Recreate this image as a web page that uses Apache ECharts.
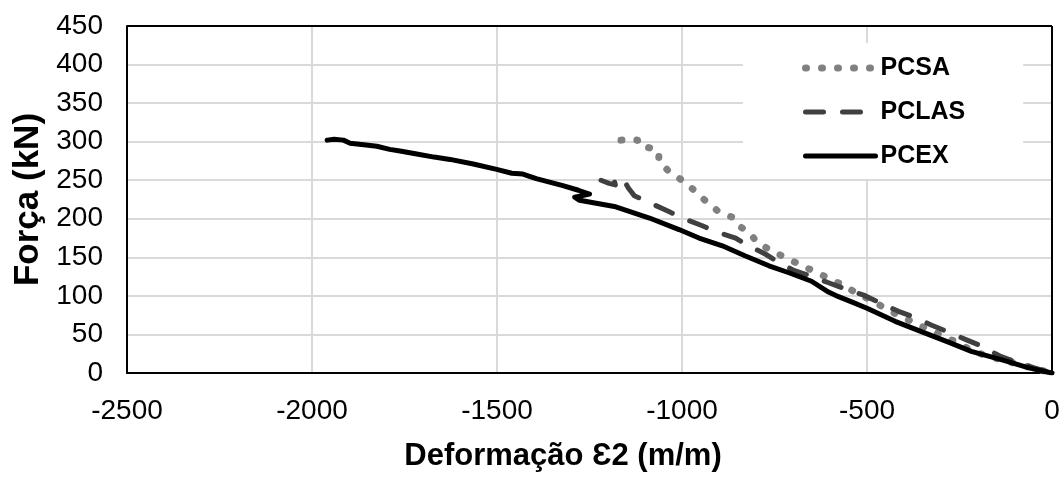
<!DOCTYPE html>
<html>
<head>
<meta charset="utf-8">
<script src="https://cdn.jsdelivr.net/npm/echarts@6/dist/echarts.min.js"></script>
<style>
html,body{margin:0;padding:0;background:#fff;}
#chart{width:1064px;height:477px;}
</style>
</head>
<body>
<div id="chart"></div>
<script>
// Axis ticks
const xTicks = [-2500, -2000, -1500, -1000, -500, 0];
const yTicks = [0, 50, 100, 150, 200, 250, 300, 350, 400, 450];
const seriesNames = ['PCSA', 'PCLAS', 'PCEX'];

// PCSA (dotted)
const pcsaX = [-1165, -1140, -1120, -1118, -1088, -1062, -1063, -1037, -1000, -967, -936, -903, -864, -853, -815, -799, -760, -722, -683, -644, -604, -565, -526, -487, -451, -411, -372, -333, -294, -254, -213, -173, -128, -88, -48, 0];
const pcsaY = [302, 303, 302, 296, 292, 287, 276, 262, 250, 237, 223, 210, 202, 193, 181, 170, 159, 150, 141, 132, 123, 114, 103, 94, 84, 74, 65, 56, 48, 39, 28, 22, 16, 11, 6, 0];

// PCLAS (dashed)
const pclasX = [-1219, -1197, -1180, -1184, -1170, -1157, -1145, -1129, -1093, -1034, -999, -945, -913, -855, -828, -774, -747, -698, -653, -604, -559, -509, -469, -415, -375, -325, -280, -231, -191, -141, -101, -50, 0];
const pclasY = [250, 246, 244, 251, 253, 250, 240, 230, 222, 209, 201, 191, 184, 175, 167, 154, 146, 133, 126, 117, 109, 101, 92, 80, 73, 62, 53, 43, 35, 22, 15, 7, 0];

// PCEX (solid)
const pcexX = [-1959, -1940, -1915, -1897, -1860, -1825, -1790, -1762, -1717, -1670, -1627, -1564, -1501, -1460, -1430, -1394, -1322, -1280, -1250, -1290, -1277, -1183, -1088, -1008, -954, -891, -830, -765, -711, -650, -604, -577, -540, -500, -424, -334, -280, -218, -128, -65, -20, 0];
const pcexY = [302, 303, 302, 298, 296, 294, 290, 288, 284, 280, 277, 271, 264, 259, 258, 252, 243, 237, 232, 228, 224, 216, 201, 186, 175, 165, 152, 139, 130, 119, 105, 99, 92, 84, 67, 50, 40, 28, 16, 7, 2, 0];

function zip(xs, ys) { return xs.map((x, i) => [x, ys[i]]); }

const FONT = "'Liberation Sans', Arial, sans-serif";
const BORDER = {show: true, onZero: false, lineStyle: {color: '#000', width: 2}};
const GRIDLINE = {show: true, showMinLine: false, showMaxLine: false, lineStyle: {color: '#d9d9d9', width: 2}};

const styles = {
  PCSA: {color: '#808080', width: 7, type: [1, 15], cap: 'round', join: 'round'},
  PCLAS: {color: '#404040', width: 5, type: [18, 19], cap: 'round', join: 'round'},
  PCEX: {color: '#000000', width: 5, type: 'solid', cap: 'round', join: 'round'}
};

const chart = echarts.init(document.getElementById('chart'), null, {renderer: 'canvas'});
chart.setOption({
  animation: false,
  backgroundColor: '#fff',
  grid: {left: 127, right: 12, top: 26, bottom: 98},
  legend: {
    data: seriesNames.map(n => ({name: n, lineStyle: styles[n], itemStyle: {opacity: 0}})),
    orient: 'vertical',
    left: 743, top: 43,
    z: 5,
    backgroundColor: '#fff',
    padding: [12, 58, 10, 59],
    itemWidth: 70, itemHeight: 14, itemGap: 18,
    selectedMode: false,
    itemStyle: {opacity: 0},
    textStyle: {fontFamily: FONT, fontSize: 25, fontWeight: 'bold', color: '#000', lineHeight: 26}
  },
  xAxis: {
    type: 'value',
    min: xTicks[0], max: xTicks[xTicks.length - 1], interval: 500,
    name: 'Deformação Ɛ2 (m/m)',
    nameLocation: 'middle', nameGap: 68,
    nameTextStyle: {fontFamily: FONT, fontSize: 31, fontWeight: 'bold', color: '#000', padding: [0, 53, 0, 0]},
    axisLine: BORDER, axisTick: {show: false},
    axisLabel: {fontFamily: FONT, fontSize: 28, color: '#000', margin: 24, formatter: v => String(v)},
    splitLine: GRIDLINE
  },
  yAxis: {
    type: 'value',
    min: yTicks[0], max: yTicks[yTicks.length - 1], interval: 50,
    name: 'Força (kN)',
    nameLocation: 'middle', nameGap: 81, nameRotate: 90,
    nameTextStyle: {fontFamily: FONT, fontSize: 35, fontWeight: 'bold', color: '#000'},
    axisLine: BORDER, axisTick: {show: false},
    axisLabel: {fontFamily: FONT, fontSize: 28, color: '#000', margin: 24},
    splitLine: GRIDLINE
  },
  series: seriesNames.map(n => ({
    name: n, type: 'line',
    data: n === 'PCSA' ? zip(pcsaX, pcsaY) : n === 'PCLAS' ? zip(pclasX, pclasY) : zip(pcexX, pcexY),
    showSymbol: false, symbol: 'none', smooth: false,
    itemStyle: {color: styles[n].color},
    lineStyle: styles[n]
  }))
});

// Plot-area frame from the grid's own rectangle
function drawFrame() {
  let r = null;
  try {
    const gridModel = chart.getModel().getComponent('grid', 0);
    r = gridModel.coordinateSystem.getRect();
  } catch (e) { r = null; }
  if (!r) {
    try {
      const tl = chart.convertToPixel({gridIndex: 0}, [xTicks[0], yTicks[yTicks.length - 1]]);
      const br = chart.convertToPixel({gridIndex: 0}, [xTicks[xTicks.length - 1], yTicks[0]]);
      r = {x: tl[0], y: tl[1], width: br[0] - tl[0], height: br[1] - tl[1]};
    } catch (e) { r = null; }
  }
  if (!r) return;
  chart.setOption({
    graphic: {
      elements: [
        {id: 'frameTop', type: 'line', z: 100, zlevel: 0, silent: true,
         shape: {x1: r.x, y1: r.y, x2: r.x + r.width, y2: r.y},
         style: {stroke: '#000', lineWidth: 2}},
        {id: 'frameRight', type: 'line', z: 100, zlevel: 0, silent: true,
         shape: {x1: r.x + r.width, y1: r.y, x2: r.x + r.width, y2: r.y + r.height},
         style: {stroke: '#000', lineWidth: 2}}
      ]
    }
  });
}
drawFrame();
</script>
</body>
</html>
